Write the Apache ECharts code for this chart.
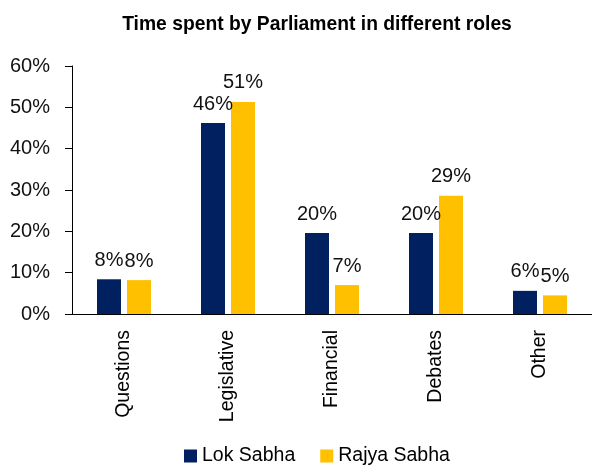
<!DOCTYPE html>
<html>
<head>
  <meta charset="utf-8">
  <title>Time spent by Parliament in different roles</title>
  <script src="https://cdn.jsdelivr.net/npm/echarts@6/dist/echarts.min.js"></script>
  <style>
    html, body { margin: 0; padding: 0; background: #fff; }
    #main { width: 592px; height: 473px; }
  </style>
</head>
<body>
  <div id="main"></div>
  <script>
  // values (percent of time)
  var categories = ['Questions', 'Legislative', 'Financial', 'Debates', 'Other'];
  var lokSabha = [8.4, 46.2, 19.6, 19.6, 5.6];
  var rajyaSabha = [8.2, 51.3, 7.0, 28.6, 4.5];
  var yTicks = [0, 10, 20, 30, 40, 50, 60];

  var font = 'Liberation Sans, Arial, sans-serif';
  var barLabel = {
    show: true,
    position: 'top',
    distance: 9,
    color: '#111',
    fontSize: 20,
    fontFamily: font,
    formatter: function (p) { return Math.round(p.value) + '%'; }
  };

  var myChart = echarts.init(document.getElementById('main'));
  myChart.setOption({
    animation: false,
    title: {
      text: 'Time spent by Parliament in different roles',
      left: 312,
      textAlign: 'center',
      top: 10,
      textStyle: { fontSize: 19.3, fontWeight: 'bold', color: '#000', fontFamily: font }
    },
    legend: {
      data: ['Lok Sabha', 'Rajya Sabha'],
      bottom: 2,
      left: 179,
      itemWidth: 13,
      itemHeight: 13,
      itemGap: 25,
      icon: 'rect',
      textStyle: { fontSize: 19.5, color: '#000', fontFamily: font }
    },
    grid: { left: 72, top: 66, width: 525, height: 248, containLabel: false },
    xAxis: {
      type: 'category',
      data: categories,
      axisLine: { lineStyle: { color: '#000', width: 1 } },
      axisTick: { show: false },
      axisLabel: {
        rotate: 90,
        margin: 16,
        fontSize: 19.5,
        color: '#000',
        fontFamily: font
      }
    },
    yAxis: {
      type: 'value',
      min: yTicks[0],
      max: yTicks[yTicks.length - 1],
      interval: 10,
      splitLine: { show: false },
      axisLine: { show: true, lineStyle: { color: '#000', width: 1 } },
      axisTick: { show: true, length: 7, lineStyle: { color: '#000' } },
      axisLabel: {
        margin: 22,
        fontSize: 20,
        color: '#111',
        fontFamily: font,
        formatter: '{value}%'
      }
    },
    series: [{
      name: 'Lok Sabha',
      type: 'bar',
      data: lokSabha,
      barWidth: 24,
      barGap: '25%',
      itemStyle: { color: '#002060' },
      label: barLabel
    }, {
      name: 'Rajya Sabha',
      type: 'bar',
      data: rajyaSabha,
      barWidth: 24,
      itemStyle: { color: '#FFC000' },
      label: barLabel
    }]
  });
  </script>
</body>
</html>
